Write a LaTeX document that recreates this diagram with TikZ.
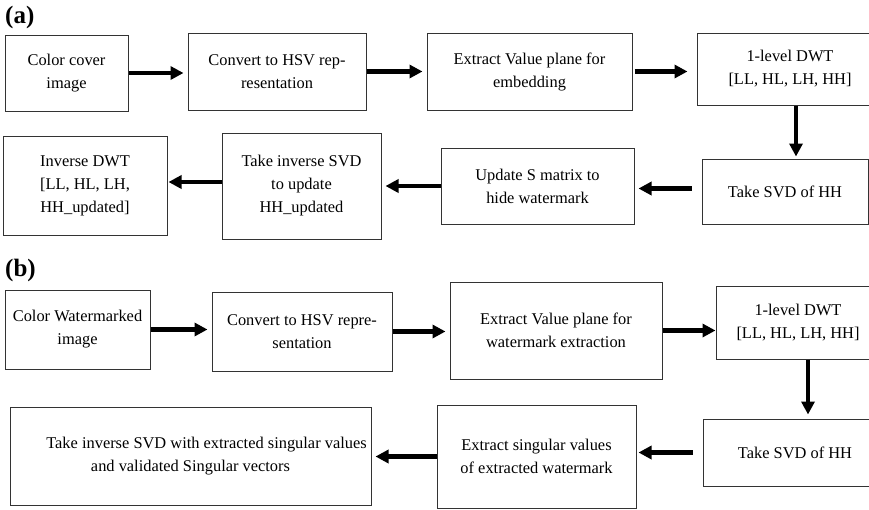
\documentclass[tikz,border=0pt]{standalone}
\usepackage{fontspec}
\setmainfont{Liberation Serif}
\usetikzlibrary{arrows.meta, positioning}

\begin{document}
\begin{tikzpicture}
[x=1pt, y=-1pt,
block_box/.style ={rectangle, draw=black!80, line width=1pt, fill=white, align=center, inner sep=0pt, font=\fontsize{16.4}{23}\selectfont},
label_part/.style ={anchor=west, inner sep=0pt, font=\fontsize{25}{30}\selectfont\bfseries},
line_arrow/.style ={draw, line width=4.2pt, -{Triangle[length=13pt, width=13pt]}, shorten >=4pt}
]
\useasboundingbox (0,0) rectangle (869,509);
\clip (0,0) rectangle (869,509);

%%% (a) embedding %%%
\node [label_part] (la) at (5,17.5) {(a)};
\node [block_box, minimum width=123, minimum height=76] (a1) at (66.5,73) {Color cover\\image};
\node [block_box, minimum width=178, minimum height=77] (a2) at (277,71.5) {Convert to HSV rep-\\resentation};
\node [block_box, minimum width=205, minimum height=77] (a3) at (529.5,71.5) {Extract Value plane for\\embedding};
\node [block_box, minimum width=186, minimum height=72] (a4) at (790,69) {1-level DWT\\{[LL, HL, LH, HH]}};
\node [block_box, minimum width=166, minimum height=65] (a5) at (785,191.5) {Take SVD of HH};
\node [block_box, minimum width=193, minimum height=76] (a6) at (537.5,186) {Update S matrix to\\hide watermark};
\node [block_box, minimum width=159, minimum height=106] (a7) at (301.5,186) {Take inverse SVD\\to update\\HH\_updated};
\node [block_box, minimum width=164, minimum height=99] (a8) at (85,185.5) {Inverse DWT\\{[LL, HL, LH,}\\HH\_updated]};

%%% (b) extraction %%%
\node [label_part] (lb) at (5,270) {(b)};
\node [block_box, minimum width=145, minimum height=79] (b1) at (77.5,329.5) {Color Watermarked\\image};
\node [block_box, minimum width=180, minimum height=79] (b2) at (302,331.5) {Convert to HSV repre-\\sentation};
\node [block_box, minimum width=212, minimum height=97] (b3) at (556,330.5) {Extract Value plane for\\watermark extraction};
\node [block_box, minimum width=164, minimum height=73] (b4) at (798,322.5) {1-level DWT\\{[LL, HL, LH, HH]}};
\node [block_box, minimum width=184, minimum height=67] (b5) at (795,452.5) {Take SVD of HH};
\node [block_box, minimum width=199, minimum height=103] (b6) at (536.5,456.5) {Extract singular values\\of extracted watermark};
\node [block_box, minimum width=361, minimum height=98] (b7) at (190.5,456) {\hspace*{32pt}Take inverse SVD with extracted singular values\\and validated Singular vectors};

%%% Pfeile (a) %%%
\draw[line_arrow] (a1.east) -- (a1.east -| a2.west);
\draw[line_arrow] (a2.east) -- (a2.east -| a3.west);
\draw[line_arrow, shorten <=2pt, shorten >=9pt] (a3.east) -- (a3.east -| a4.west);
\draw[line_arrow, shorten >=2pt] ([xshift=6pt]a4.south) -- ([xshift=6pt]a4.south |- a5.north);
\draw[line_arrow, shorten <=10pt] ([yshift=3pt]a5.west) -- ([yshift=3pt]a5.west -| a6.east);
\draw[line_arrow] (a6.west) -- (a6.west -| a7.east);
\draw[line_arrow, shorten >=1pt] ([yshift=4pt]a7.west) -- ([yshift=4pt]a7.west -| a8.east);

%%% Pfeile (b) %%%
\draw[line_arrow] (b1.east) -- (b1.east -| b2.west);
\draw[line_arrow] (b2.east) -- (b2.east -| b3.west);
\draw[line_arrow, shorten >=0pt] (b3.east) -- (b3.east -| b4.west);
\draw[line_arrow, shorten >=4pt] ([xshift=10pt]b4.south) -- ([xshift=10pt]b4.south |- b5.north);
\draw[line_arrow, shorten <=10pt, shorten >=2pt] (b5.west) -- (b5.west -| b6.east);
\draw[line_arrow] (b6.west) -- (b6.west -| b7.east);

\end{tikzpicture}
\end{document}
